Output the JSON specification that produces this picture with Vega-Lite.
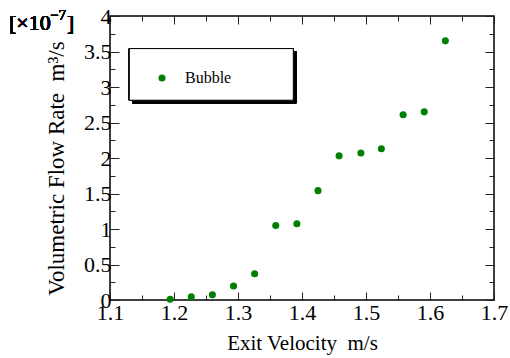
{
  "$schema": "https://vega.github.io/schema/vega-lite/v6.json",
  "autosize": "none",
  "padding": {"left": 110, "top": 16, "right": 16, "bottom": 58},
  "width": 384,
  "height": 284,
  "background": "white",
  "config": {
    "view": {"stroke": "black", "strokeWidth": 1.5},
    "font": "Liberation Serif",
    "axis": {
      "labelFont": "Liberation Serif",
      "titleFont": "Liberation Serif",
      "labelFontSize": 22,
      "titleFontSize": 21,
      "titleFontWeight": "normal",
      "labelColor": "black",
      "titleColor": "black",
      "domainColor": "black",
      "tickColor": "#222",
      "grid": false
    },
    "legend": {"labelFont": "Liberation Serif"}
  },
  "data": {
    "values": [
      {"v": 1.194, "q": 0.01, "series": "Bubble"},
      {"v": 1.227, "q": 0.047, "series": "Bubble"},
      {"v": 1.26, "q": 0.075, "series": "Bubble"},
      {"v": 1.293, "q": 0.197, "series": "Bubble"},
      {"v": 1.326, "q": 0.37, "series": "Bubble"},
      {"v": 1.359, "q": 1.05, "series": "Bubble"},
      {"v": 1.392, "q": 1.075, "series": "Bubble"},
      {"v": 1.425, "q": 1.54, "series": "Bubble"},
      {"v": 1.458, "q": 2.03, "series": "Bubble"},
      {"v": 1.492, "q": 2.07, "series": "Bubble"},
      {"v": 1.524, "q": 2.13, "series": "Bubble"},
      {"v": 1.558, "q": 2.61, "series": "Bubble"},
      {"v": 1.591, "q": 2.65, "series": "Bubble"},
      {"v": 1.624, "q": 3.65, "series": "Bubble"}
    ]
  },
  "resolve": {"scale": {"x": "shared", "y": "shared"}, "axis": {"x": "independent", "y": "independent"}},
  "layer": [
    {
      "mark": {"type": "rect", "fill": "black", "xOffset": 3, "x2Offset": 3, "yOffset": 3, "y2Offset": 3},
      "encoding": {
        "x": {"datum": 1.1302, "type": "quantitative", "scale": {"domain": [1.1, 1.7], "nice": false, "zero": false},
          "axis": {"orient": "top", "values": [1.1,1.15,1.2,1.25,1.3,1.35,1.4,1.45,1.5,1.55,1.6,1.65,1.7], "labels": false, "title": null, "domain": false,
            "tickSize": {"condition": {"test": "abs(datum.value*10 - round(datum.value*10)) < 0.01", "value": -8}, "value": -5}}},
        "x2": {"datum": 1.3864},
        "y": {"datum": 3.541, "type": "quantitative", "scale": {"domain": [0, 4], "nice": false, "zero": false},
          "axis": {"orient": "right", "values": [0,0.25,0.5,0.75,1,1.25,1.5,1.75,2,2.25,2.5,2.75,3,3.25,3.5,3.75,4], "labels": false, "title": null, "domain": false,
            "tickSize": {"condition": {"test": "abs(datum.value*2 - round(datum.value*2)) < 0.01", "value": -9}, "value": -5}}},
        "y2": {"datum": 2.814}
      }
    },
    {
      "mark": {"type": "rect", "fill": "white", "stroke": "black", "strokeWidth": 1},
      "encoding": {
        "x": {"datum": 1.1302, "type": "quantitative", "axis": null},
        "x2": {"datum": 1.3864},
        "y": {"datum": 3.541, "type": "quantitative", "axis": null},
        "y2": {"datum": 2.814}
      }
    },
    {
      "mark": {"type": "point", "filled": true, "size": 50, "opacity": 1},
      "encoding": {
        "x": {"field": "v", "type": "quantitative", "scale": {"domain": [1.1, 1.7], "nice": false, "zero": false},
          "axis": {"orient": "bottom", "title": "Exit Velocity\u00a0\u00a0m/s", "titlePadding": 9, "domain": false,
            "values": [1.1,1.15,1.2,1.25,1.3,1.35,1.4,1.45,1.5,1.55,1.6,1.65,1.7],
            "labelExpr": "abs(datum.value*10 - round(datum.value*10)) < 0.01 ? format(datum.value, '.1f') : ''",
            "labelPadding": 10, "labelFlush": false,
            "tickSize": {"condition": {"test": "abs(datum.value*10 - round(datum.value*10)) < 0.01", "value": -8}, "value": -5}}},
        "y": {"field": "q", "type": "quantitative", "scale": {"domain": [0, 4], "nice": false, "zero": false},
          "axis": {"orient": "left", "title": "Volumetric Flow Rate\u00a0\u00a0m³/s", "titleFontSize": 23, "titlePadding": 15, "titleY": 152, "domain": false,
            "values": [0,0.25,0.5,0.75,1,1.25,1.5,1.75,2,2.25,2.5,2.75,3,3.25,3.5,3.75,4],
            "labelExpr": "abs(datum.value*2 - round(datum.value*2)) < 0.01 ? format(datum.value, '') : ''",
            "labelPadding": 8, "labelFlush": false,
            "tickSize": {"condition": {"test": "abs(datum.value*2 - round(datum.value*2)) < 0.01", "value": -9}, "value": -5}}},
        "color": {"field": "series", "type": "nominal", "scale": {"range": ["#008000"]},
          "legend": {"orient": "none", "legendX": 44, "legendY": 54, "title": null, "labelFontSize": 16, "symbolSize": 50, "symbolType": "circle", "labelOffset": 15, "padding": 0}}
      }
    },
    {
      "mark": {"type": "text", "text": "[×10", "fontSize": 22, "font": "Liberation Serif", "fontWeight": "normal", "align": "left", "baseline": "alphabetic", "dx": -101, "dy": 14, "color": "black"},
      "encoding": {
        "x": {"datum": 1.1, "type": "quantitative", "axis": null},
        "y": {"datum": 4, "type": "quantitative", "axis": null}
      }
    },
    {
      "mark": {"type": "text", "text": "−7", "fontSize": 15, "font": "Liberation Serif", "fontWeight": "normal", "align": "left", "baseline": "alphabetic", "dx": -60, "dy": 4, "color": "black"},
      "encoding": {
        "x": {"datum": 1.1, "type": "quantitative", "axis": null},
        "y": {"datum": 4, "type": "quantitative", "axis": null}
      }
    },
    {
      "mark": {"type": "text", "text": "]", "fontSize": 22, "font": "Liberation Serif", "fontWeight": "normal", "align": "left", "baseline": "alphabetic", "dx": -43, "dy": 14, "color": "black"},
      "encoding": {
        "x": {"datum": 1.1, "type": "quantitative", "axis": null},
        "y": {"datum": 4, "type": "quantitative", "axis": null}
      }
    }
  ]
}
